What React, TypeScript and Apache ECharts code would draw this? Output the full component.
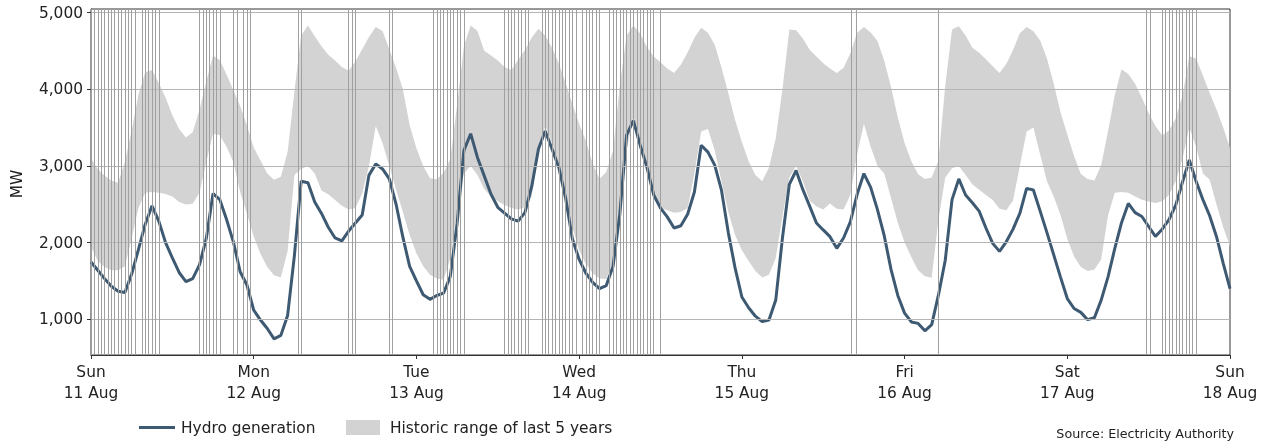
import React, { useEffect, useRef } from "react";
import * as echarts from "echarts";

const FONT = "DejaVu Sans";

// x axis: hours since Sun 11 Aug 00:00 (hourly readings)
const HOURS: number[] = Array.from({ length: 169 }, (_, i) => i);

const DAY_LABELS = [
  "Sun\n11 Aug",
  "Mon\n12 Aug",
  "Tue\n13 Aug",
  "Wed\n14 Aug",
  "Thu\n15 Aug",
  "Fri\n16 Aug",
  "Sat\n17 Aug",
  "Sun\n18 Aug",
];

const Y_TICKS = [1000, 2000, 3000, 4000, 5000];

// Hydro generation (MW), hourly
const HYDRO: number[] = [
  // Sun
  1747, 1640, 1530, 1430, 1365, 1350, 1590, 1910, 2240, 2480, 2280, 2000, 1800, 1610, 1490, 1530, 1710, 2050, 2640, 2560, 2300, 2010, 1620, 1447,
  // Mon
  1120, 990, 880, 745, 790, 1050, 1830, 2800, 2780, 2530, 2380, 2200, 2060, 2021, 2150, 2255, 2360, 2880, 3025, 2960, 2830, 2500, 2070, 1690,
  // Tue
  1500, 1320, 1260, 1310, 1340, 1560, 2250, 3200, 3420, 3110, 2870, 2630, 2460, 2385, 2310, 2280, 2390, 2729, 3220, 3455, 3220, 2980, 2580, 2050,
  // Wed
  1780, 1600, 1480, 1400, 1440, 1690, 2370, 3400, 3590, 3270, 2980, 2620, 2450, 2335, 2190, 2220, 2370, 2660, 3270, 3180, 3010, 2680, 2130, 1670,
  // Thu
  1290, 1150, 1040, 970, 990, 1250, 2070, 2760, 2940, 2690, 2475, 2255, 2165, 2077, 1925, 2060, 2270, 2630, 2900, 2720, 2430, 2090, 1650, 1310,
  // Fri
  1080, 965, 946, 850, 930, 1317, 1770, 2560, 2830, 2620, 2520, 2410, 2190, 1990, 1885, 2010, 2175, 2381, 2707, 2686, 2410, 2130, 1840, 1550,
  // Sat (+ Sun 00:00)
  1270, 1140, 1090, 995, 1020, 1250, 1550, 1920, 2260, 2510, 2390, 2340, 2210, 2080, 2175, 2300, 2490, 2790, 3077, 2800, 2560, 2350, 2080, 1730, 1400,
];

// Historic range of last 5 years: upper bound (MW)
const UPPER: number[] = [
  3100, 2960, 2870, 2810, 2780, 3050, 3460, 3930, 4220, 4250, 4080, 3890, 3660, 3480, 3370, 3440, 3730, 4100, 4440, 4380, 4190, 3990, 3780, 3530,
  3240, 3070, 2900, 2820, 2860, 3180, 3970, 4700, 4830, 4690, 4560, 4450, 4375, 4290, 4240, 4360, 4520, 4680, 4810, 4760, 4520, 4280, 4000, 3530,
  3230, 3000, 2840, 2825, 2910, 3090, 3790, 4560, 4830, 4760, 4500, 4440, 4375, 4290, 4250, 4380, 4510, 4670, 4790, 4700, 4540, 4340, 4080, 3810,
  3550, 3320, 3030, 2830, 2920, 3200, 4050, 4700, 4830, 4725, 4550, 4425, 4350, 4270, 4210, 4320, 4480, 4670, 4800, 4735, 4580, 4280, 3950, 3600,
  3310, 3060, 2880, 2800, 2980, 3360, 4010, 4780, 4770, 4660, 4515, 4425, 4337, 4270, 4210, 4280, 4470, 4735, 4810, 4740, 4630, 4370, 4030, 3630,
  3300, 3060, 2890, 2830, 2850, 3070, 4050, 4780, 4820, 4700, 4540, 4475, 4390, 4300, 4210, 4330, 4510, 4729, 4810, 4755, 4635, 4400, 4070, 3700,
  3410, 3130, 2895, 2830, 2810, 3010, 3450, 3920, 4260, 4200, 4070, 3890, 3690, 3520, 3395, 3460, 3620, 3920, 4430, 4400, 4180, 3950, 3740, 3500, 3229,
];

// Historic range of last 5 years: lower bound (MW)
const LOWER: number[] = [
  1950, 1760, 1680, 1640, 1640, 1690, 2060, 2450, 2650, 2660, 2650, 2635, 2600, 2530, 2495, 2505, 2650, 3050, 3420, 3400, 3250, 3050, 2660, 2375,
  2080, 1850, 1680, 1575, 1545, 1890, 2880, 2960, 3000, 2900, 2680, 2630, 2555, 2480, 2430, 2450, 2640, 3000, 3520, 3300, 3000, 2690, 2400, 2100,
  1860, 1690, 1580, 1530, 1515, 1790, 2420, 2900, 3000, 2880, 2700, 2600, 2540, 2490, 2450, 2430, 2460, 2600, 3200, 3520, 3300, 2950, 2550, 2200,
  1900, 1720, 1600, 1530, 1525, 1750, 2350, 3200, 3650, 3350, 2950, 2650, 2450, 2420, 2390, 2400, 2450, 2900, 3450, 3480, 3200, 2800, 2400, 2100,
  1900, 1760, 1630, 1545, 1580, 1800, 2350, 2850, 3000, 2800, 2550, 2470, 2430, 2510, 2440, 2430, 2620, 3150, 3550, 3250, 3000, 2900, 2580, 2260,
  2000, 1810, 1640, 1560, 1540, 2300, 2850, 2970, 3000, 2880, 2760, 2690, 2620, 2555, 2440, 2420, 2550, 3000, 3450, 3500, 3150, 2800, 2600, 2360,
  2050, 1820, 1680, 1630, 1650, 1780, 2350, 2650, 2660, 2650, 2600, 2560, 2535, 2515, 2540, 2620, 2800, 3100, 3500, 3250, 2900, 2820, 2500, 2200, 1950,
];

// Vertical marker lines (hours since Sun 11 Aug 00:00)
const EVENTS: number[] = [
  0, 0.5, 1, 1.5, 2, 2.5, 3, 3.5, 4, 4.5, 5, 5.5, 6, 6.5,
  7.5, 8, 8.5, 9, 9.5, 10,
  16, 16.5, 17, 17.5, 18, 18.5, 19,
  21, 21.5, 22.5, 23, 23.5,
  30.5, 31,
  38, 38.5, 39,
  44, 44.5,
  50.5, 51, 51.5, 52, 52.5, 53, 53.5, 54, 54.5, 55,
  61, 61.5, 62, 62.5, 63, 63.5, 64, 64.5,
  66.5, 67, 67.5, 68, 68.5, 69, 69.5, 70, 70.5, 71, 71.5,
  72.5, 73, 73.5, 74, 74.5, 75,
  76.5, 77, 77.5, 78, 78.5, 79, 79.5, 80, 80.5, 81, 81.5, 82, 82.5, 83,
  84,
  112.2, 112.9,
  125,
  155.6, 156.2,
  158, 158.5, 159, 159.5, 160, 160.5, 161, 161.5, 162, 162.5, 163,
];

const HYDRO_NAME = "Hydro generation";
const BAND_NAME = "Historic range of last 5 years";

export default function App() {
  const ref = useRef<HTMLDivElement>(null);

  useEffect(() => {
    if (!ref.current) return;
    const chart = echarts.init(ref.current, undefined, { renderer: "svg" });

    const option: any = {
      animation: false,
      textStyle: { fontFamily: FONT },
      grid: {
        left: 91,
        right: 45,
        top: 9,
        bottom: 90,
        show: true,
        borderColor: "#333",
        borderWidth: 1,
        backgroundColor: "transparent",
      },
      xAxis: {
        type: "value",
        min: 0,
        max: 168,
        interval: 24,
        axisLine: { show: true, onZero: false, lineStyle: { color: "#333", width: 1 } },
        axisTick: { show: true, length: 4, lineStyle: { color: "#333" } },
        axisLabel: {
          formatter: (v: number) => DAY_LABELS[Math.round(v / 24)] ?? "",
          fontSize: 15.4,
          lineHeight: 21,
          color: "#222",
          margin: 6,
          fontFamily: FONT,
        },
        splitLine: { show: false },
      },
      yAxis: {
        type: "value",
        min: 534,
        max: 5046,
        axisLine: { show: true, lineStyle: { color: "#333", width: 1 } },
        axisTick: { show: true, length: 4, customValues: Y_TICKS, lineStyle: { color: "#333" } },
        axisLabel: {
          customValues: Y_TICKS,
          formatter: (v: number) => v.toLocaleString("en-US"),
          fontSize: 15.4,
          color: "#222",
          margin: 8,
          fontFamily: FONT,
        },
        splitLine: { show: false },
      },
      legend: [
        {
          data: [{ name: HYDRO_NAME, icon: "rect" }],
          left: 134,
          top: 415,
          itemWidth: 36,
          itemHeight: 3,
          textStyle: { fontSize: 15.4, color: "#222", fontFamily: FONT, padding: [0, 0, 0, 1] },
          selectedMode: false,
        },
        {
          data: [{ name: BAND_NAME, icon: "rect" }],
          left: 341,
          top: 415,
          itemWidth: 34,
          itemHeight: 15,
          textStyle: { fontSize: 15.4, color: "#222", fontFamily: FONT, padding: [0, 0, 0, 5] },
          selectedMode: false,
        },
      ],
      graphic: [
        {
          type: "text",
          x: 17,
          y: 184,
          rotation: Math.PI / 2,
          style: {
            text: "MW",
            fontSize: 15.4,
            fontFamily: FONT,
            fill: "#222",
            textAlign: "center",
            textVerticalAlign: "middle",
          },
        },
        {
          type: "text",
          right: 41,
          top: 427,
          style: {
            text: "Source: Electricity Authority",
            fontSize: 12.7,
            fontFamily: FONT,
            fill: "#222",
          },
        },
      ],
      series: [
        {
          name: BAND_NAME,
          type: "custom",
          z: 1,
          silent: true,
          itemStyle: { color: "#d3d3d3" },
          data: HOURS.map((h, i) => [h, LOWER[i], UPPER[i]]),
          encode: { x: 0, y: [1, 2] },
          renderItem: (params: any, api: any) => {
            if (params.dataIndex !== 0) return null;
            const pts: number[][] = [];
            for (let i = 0; i < HOURS.length; i++) pts.push(api.coord([HOURS[i], UPPER[i]]));
            for (let i = HOURS.length - 1; i >= 0; i--) pts.push(api.coord([HOURS[i], LOWER[i]]));
            return {
              type: "polygon",
              shape: { points: pts },
              style: { fill: "#d3d3d3" },
              silent: true,
            };
          },
        },
        {
          name: "markers",
          type: "line",
          z: 2,
          silent: true,
          data: [],
          markLine: {
            silent: true,
            symbol: ["none", "none"],
            label: { show: false },
            emphasis: { disabled: true },
            animation: false,
            lineStyle: { color: "#a0a0a0", width: 1, type: "solid" },
            data: [
              ...Y_TICKS.map((v) => ({ yAxis: v, lineStyle: { color: "#b5b5b5", width: 1, type: "solid" } })),
              ...EVENTS.map((h) => ({ xAxis: h })),
            ],
          },
        },
        {
          name: HYDRO_NAME,
          type: "line",
          z: 3,
          showSymbol: false,
          symbol: "none",
          silent: true,
          data: HOURS.map((h, i) => [h, HYDRO[i]]),
          lineStyle: { color: "#3e5a72", width: 3 },
          itemStyle: { color: "#3e5a72" },
        },
      ],
    };

    chart.setOption(option);
    return () => chart.dispose();
  }, []);

  return (
    <div
      ref={ref}
      style={{ position: "fixed", left: 0, top: 0, width: 1275, height: 445 }}
    />
  );
}
